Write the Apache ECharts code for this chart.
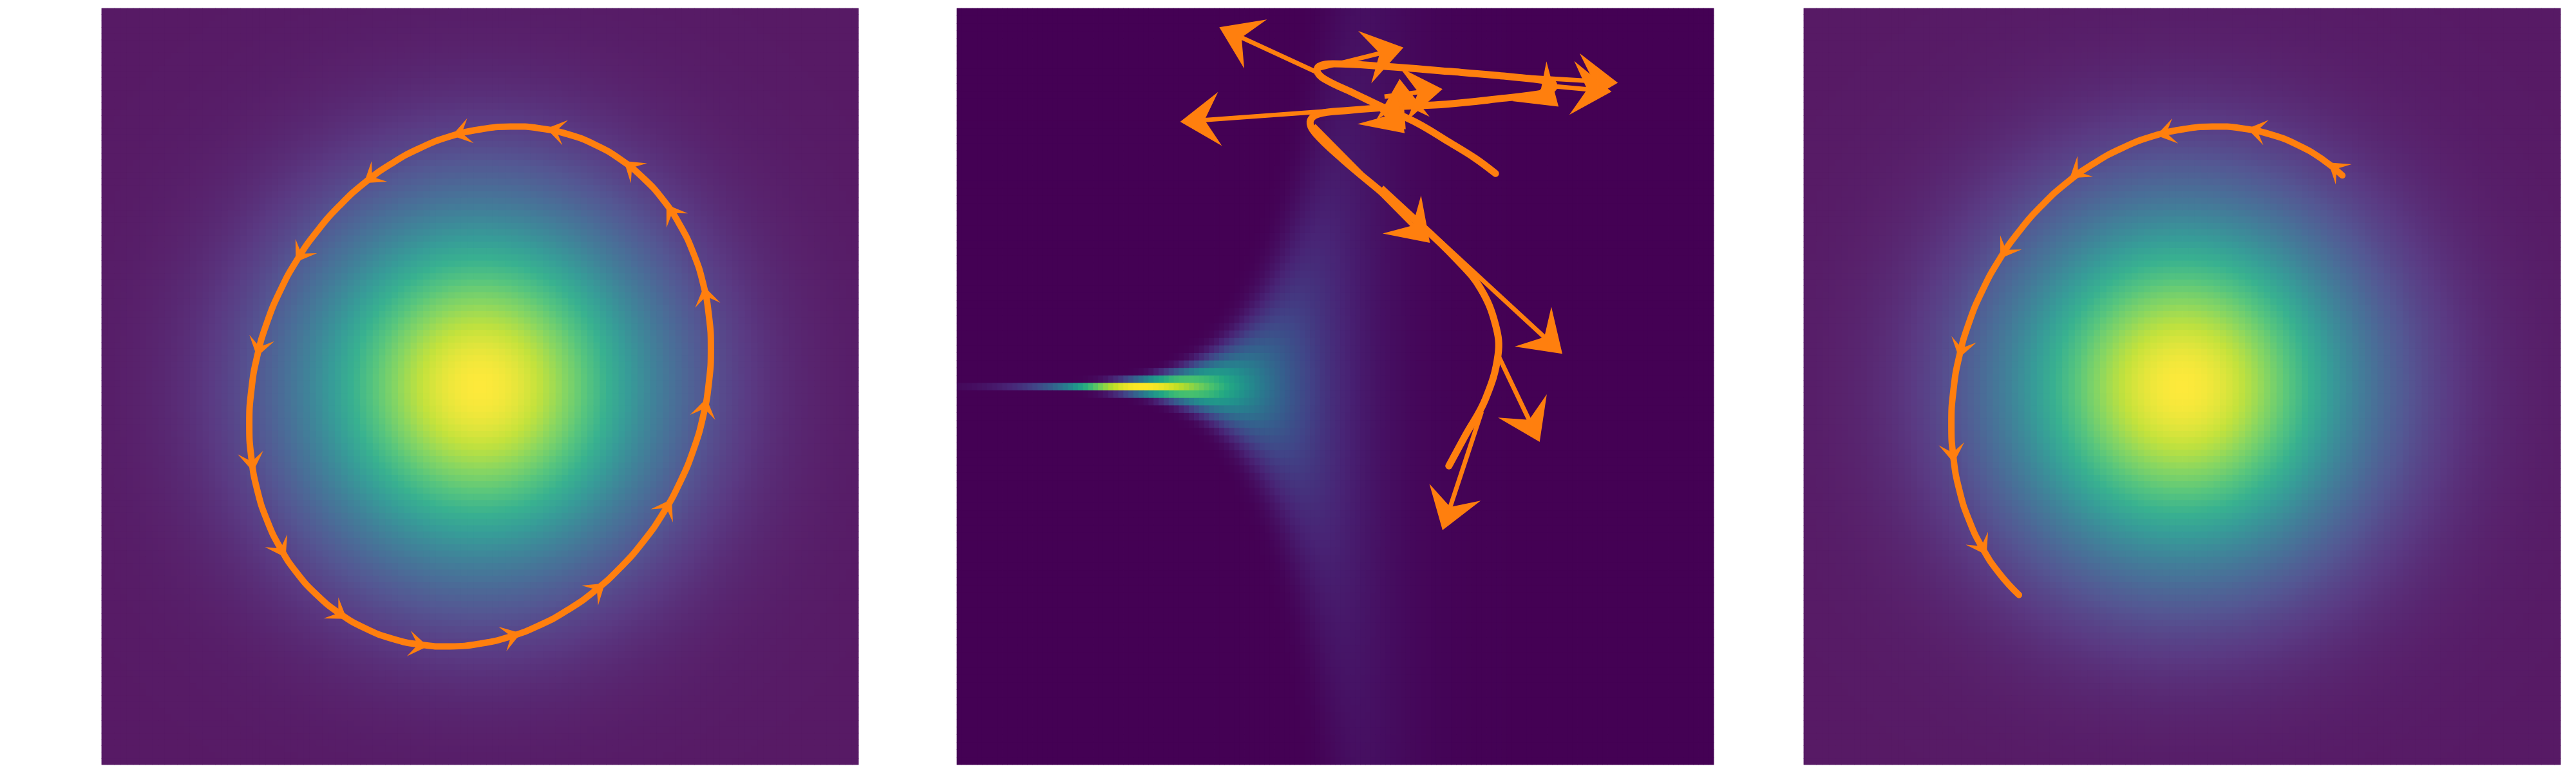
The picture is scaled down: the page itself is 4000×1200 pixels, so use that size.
<!DOCTYPE html>
<html>
<head>
<meta charset="utf-8">
<title>HMC trajectories</title>
<script src="https://cdn.jsdelivr.net/npm/echarts@6/dist/echarts.min.js"></script>
<style>
html, body { margin: 0; padding: 0; background: #ffffff; }
#chart { width: 4000px; height: 1200px; }
</style>
</head>
<body>
<div id="chart"></div>
<script>
// every panel spans the same range on both axes
var extent = [-3, 3];

// left / right panels: gaussian target [centre x, centre y, sigma]
var gaussTarget = [0, 0, 1.0];
var gaussCols = 120, gaussRows = 120;

// middle panel: funnel target [v centre, v sigma, width at v=0, width growth scale]
var funnelTarget = [0, 0.87, 1.63, 0.41];
var funnelCols = 150, funnelRows = 101;

// left panel: closed orbit
var orbitX = [0, -0.239, -0.474, -0.700, -0.915, -1.114, -1.294, -1.452, -1.585, -1.691, -1.768, -1.814,
              -1.83, -1.814, -1.768, -1.691, -1.585, -1.452, -1.294, -1.114, -0.915, -0.700, -0.474, -0.239,
              0, 0.239, 0.474, 0.700, 0.915, 1.114, 1.294, 1.452, 1.585, 1.691, 1.768, 1.814,
              1.83, 1.814, 1.768, 1.691, 1.585, 1.452, 1.294, 1.114, 0.915, 0.700, 0.474, 0.239];
var orbitY = [2.04, 1.984, 1.893, 1.770, 1.617, 1.435, 1.230, 1.004, 0.760, 0.504, 0.238, -0.031,
              -0.30, -0.563, -0.818, -1.058, -1.280, -1.480, -1.654, -1.801, -1.917, -2.000, -2.048, -2.062,
              -2.04, -1.984, -1.893, -1.770, -1.617, -1.435, -1.230, -1.004, -0.760, -0.504, -0.238, 0.031,
              0.30, 0.563, 0.818, 1.058, 1.280, 1.480, 1.654, 1.801, 1.917, 2.000, 2.048, 2.062];
var orbitArrowX = [-0.15, 0.60, 1.20, 1.52, 1.79, 1.78, 1.48, 0.93, 0.25, -0.49, -1.12, -1.58, -1.81, -1.75, -1.42, -0.86];
var orbitArrowY = [2.01, 2.03, 1.74, 1.38, 0.72, -0.17, -0.96, -1.61, -1.98, -2.05, -1.80, -1.29, -0.60, 0.31, 1.05, 1.66];
var orbitArrowU = [-1, -1, -1, -0.67, -0.2, 0.2, 0.59, 1, 1, 1, 1, 0.57, 0.14, -0.26, -0.65, -1];
var orbitArrowV = [-0.26, 0.22, 0.81, 1, 1, 1, 1, 0.82, 0.32, -0.15, -0.70, -1, -1, -1, -1, -0.76];

// right panel: partial orbit
var partX = [1.27, 1.114, 0.915, 0.700, 0.474, 0.239, 0, -0.239, -0.474, -0.700, -0.915, -1.114, -1.294,
             -1.452, -1.585, -1.691, -1.768, -1.814, -1.83, -1.814, -1.768, -1.691, -1.585, -1.452, -1.294];
var partY = [1.675, 1.801, 1.917, 2.000, 2.048, 2.062, 2.04, 1.984, 1.893, 1.770, 1.617, 1.435, 1.230,
             1.004, 0.760, 0.504, 0.238, -0.031, -0.30, -0.563, -0.818, -1.058, -1.280, -1.480, -1.654];
var partArrowX = [1.22, 0.59, -0.13, -0.83, -1.40, -1.75, -1.82, -1.59];
var partArrowY = [1.73, 2.03, 2.01, 1.70, 1.08, 0.30, -0.53, -1.27];
var partArrowU = [-1, -1, -1, -1, -0.66, -0.26, 0.12, 0.57];
var partArrowV = [0.78, 0.21, -0.24, -0.76, -1, -1, -1, -1];

// middle panel: trajectory and momentum arrows (tail + vector)
var trajX = [0.90, 1.03, 1.19, 1.29, 1.27, 1.15, 0.96, 0.68, 0.37, 0.06, -0.16, -0.20, -0.14, 0.10, 0.49, 0.88, 1.27, 1.66, 1.73, 1.72, 1.64, 1.26, 0.90, 0.39, -0.02, -0.13, -0.14, -0.07, 0.14, 0.39, 0.65, 0.90, 1.11, 1.27];
var trajY = [-0.63, -0.39, -0.10, 0.25, 0.49, 0.78, 1.01, 1.28, 1.54, 1.80, 2.01, 2.10, 2.16, 2.19, 2.22, 2.24, 2.28, 2.33, 2.37, 2.41, 2.43, 2.47, 2.50, 2.54, 2.56, 2.54, 2.49, 2.43, 2.33, 2.21, 2.09, 1.94, 1.81, 1.69];
var momX = [-0.14, 0.29, -0.14, 1.26, 1.64, 1.62, 0.39, 0.54, 0.34, -0.17, 0.37, 1.29, 1.16];
var momY = [2.49, 2.21, 2.52, 2.47, 2.39, 2.35, 2.30, 2.04, 2.22, 2.07, 1.58, 0.25, -0.20];
var momU = [-0.78, -1.52, 0.68, 0.98, 0.55, 0.15, 0.46, -0.03, 0.21, 0.92, 1.43, 0.33, -0.31];
var momV = [0.36, -0.11, 0.17, -0.06, -0.05, -0.13, 0.06, 0.40, -0.21, -0.93, -1.32, -0.69, -0.94];

// viridis, and the same ramp seen through 0.9 alpha over white
var viridis = ['#440154', '#482475', '#414487', '#355f8d', '#2a788e', '#21918c',
               '#22a884', '#44bf70', '#7ad151', '#bddf26', '#fde725'];
var viridisFaded = ['#571a65', '#5a3a83', '#545793', '#496f98', '#3f8599', '#379c98',
                    '#38b190', '#57c57e', '#87d662', '#c4e23c', '#fde93b'];
var orange = '#ff7f0e';

// panel boxes in pixels
var panels = [
    { left: 158, top: 13, width: 1175, height: 1174 },
    { left: 1486, top: 13, width: 1175, height: 1174 },
    { left: 2801, top: 13, width: 1175, height: 1174 }
];

function erf(x) {
    var t = 1 / (1 + 0.3275911 * Math.abs(x));
    var y = 1 - (((((1.061405429 * t - 1.453152027) * t) + 1.421413741) * t - 0.284496736) * t + 0.254829592) * t * Math.exp(-x * x);
    return x >= 0 ? y : -y;
}

function cellCentres(n) {
    var out = [];
    var step = (extent[1] - extent[0]) / n;
    for (var i = 0; i < n; i++) out.push(+(extent[0] + (i + 0.5) * step).toFixed(4));
    return out;
}

var gaussXs = cellCentres(gaussCols), gaussYs = cellCentres(gaussRows);
var funnelXs = cellCentres(funnelCols), funnelYs = cellCentres(funnelRows);

// gaussian density on the grid
var gaussCells = [];
for (var i = 0; i < gaussCols; i++) {
    for (var j = 0; j < gaussRows; j++) {
        var dx = gaussXs[i] - gaussTarget[0], dy = gaussYs[j] - gaussTarget[1];
        var g = Math.exp(-(dx * dx + dy * dy) / (2 * gaussTarget[2] * gaussTarget[2]));
        gaussCells.push([i, j, g]);
    }
}

// funnel density, mass of each cell row
var funnelCells = [];
var rowH = (extent[1] - extent[0]) / funnelRows;
var fmax = 0;
for (var i = 0; i < funnelCols; i++) {
    var v = funnelXs[i];
    var p = Math.exp(-Math.pow(v - funnelTarget[0], 2) / (2 * funnelTarget[1] * funnelTarget[1]));
    var w = funnelTarget[2] * Math.exp(v / funnelTarget[3]);
    var s = Math.SQRT2 * w;
    for (var j = 0; j < funnelRows; j++) {
        var y = funnelYs[j];
        var m = p * (erf((y + rowH / 2) / s) - erf((y - rowH / 2) / s)) / 2;
        if (m > fmax) fmax = m;
        funnelCells.push([i, j, m]);
    }
}
for (var k = 0; k < funnelCells.length; k++) funnelCells[k][2] = funnelCells[k][2] / fmax;

function zip(a, b) {
    var out = [];
    for (var i = 0; i < a.length; i++) out.push([a[i], b[i]]);
    return out;
}
function zip4(a, b, c, d) {
    var out = [];
    for (var i = 0; i < a.length; i++) out.push([a[i], b[i], c[i], d[i]]);
    return out;
}

function headPoints(tip, ux, uy, hl, hw, ha) {
    var px = -uy, py = ux;
    return [
        [tip[0], tip[1]],
        [tip[0] - ux * hl + px * hw / 2, tip[1] - uy * hl + py * hw / 2],
        [tip[0] - ux * ha, tip[1] - uy * ha],
        [tip[0] - ux * hl - px * hw / 2, tip[1] - uy * hl - py * hw / 2]
    ];
}

// small arrow heads sitting on the orbit
function renderOrbitArrow(params, api) {
    var x = api.value(0), y = api.value(1), u = api.value(2), v = api.value(3);
    var c = api.coord([x, y]);
    var d = api.coord([x + u * 0.01, y + v * 0.01]);
    var dx = d[0] - c[0], dy = d[1] - c[1];
    var len = Math.sqrt(dx * dx + dy * dy);
    var ux = dx / len, uy = dy / len;
    var hl = 30, hw = 40, ha = 16;
    var tip = [c[0] + ux * hl / 2, c[1] + uy * hl / 2];
    return {
        type: 'polygon',
        shape: { points: headPoints(tip, ux, uy, hl, hw, ha) },
        style: { fill: orange }
    };
}

// quiver style momentum arrows
function renderMomentum(params, api) {
    var x = api.value(0), y = api.value(1), u = api.value(2), v = api.value(3);
    var a = api.coord([x, y]);
    var b = api.coord([x + u, y + v]);
    var dx = b[0] - a[0], dy = b[1] - a[1];
    var len = Math.sqrt(dx * dx + dy * dy);
    var ux = dx / len, uy = dy / len;
    var k = Math.min(1, len / 40);
    var hl = 62 * k, hw = 84 * k, ha = 38 * k;
    return {
        type: 'group',
        children: [{
            type: 'line',
            shape: { x1: a[0], y1: a[1], x2: b[0] - ux * ha * 0.9, y2: b[1] - uy * ha * 0.9 },
            style: { stroke: orange, lineWidth: 7 }
        }, {
            type: 'polygon',
            shape: { points: headPoints(b, ux, uy, hl, hw, ha) },
            style: { fill: orange }
        }]
    };
}

// a whole trajectory drawn as one smoothed path through the axis scales
function pathSeries(idx, xs, ys, width, closed, smooth) {
    return {
        type: 'custom', xAxisIndex: idx, yAxisIndex: idx, clip: false, silent: true, z: 3,
        data: zip(xs, ys),
        renderItem: function (params, api) {
            if (params.dataIndex !== 0) return;
            var pts = [];
            for (var i = 0; i < xs.length; i++) pts.push(api.coord([xs[i], ys[i]]));
            return {
                type: closed ? 'polygon' : 'polyline',
                shape: { points: pts, smooth: smooth },
                style: { fill: 'none', stroke: orange, lineWidth: width, lineCap: 'round', lineJoin: 'round' }
            };
        }
    };
}

function heat(idx, cells) {
    return { type: 'heatmap', xAxisIndex: idx, yAxisIndex: idx, data: cells, progressive: 0, silent: true };
}

var grids = [], xAxes = [], yAxes = [];
// heatmap grids (category axes) then overlay grids (value axes)
for (var g = 0; g < 3; g++) {
    grids.push({ left: panels[g].left, top: panels[g].top, width: panels[g].width, height: panels[g].height, containLabel: false });
    xAxes.push({ type: 'category', gridIndex: g, data: g === 1 ? funnelXs : gaussXs, show: false });
    yAxes.push({ type: 'category', gridIndex: g, data: g === 1 ? funnelYs : gaussYs, show: false });
}
for (var g = 0; g < 3; g++) {
    grids.push({ left: panels[g].left, top: panels[g].top, width: panels[g].width, height: panels[g].height, containLabel: false });
    xAxes.push({ type: 'value', gridIndex: g + 3, min: extent[0], max: extent[1], show: false, splitLine: { show: false } });
    yAxes.push({ type: 'value', gridIndex: g + 3, min: extent[0], max: extent[1], show: false, splitLine: { show: false } });
}

var chart = echarts.init(document.getElementById('chart'));
chart.setOption({
    animation: false,
    backgroundColor: '#ffffff',
    grid: grids,
    xAxis: xAxes,
    yAxis: yAxes,
    visualMap: [{
        type: 'continuous', show: false, min: 0, max: 1, dimension: 2,
        seriesIndex: [0, 2, 3, 5],
        inRange: { color: viridisFaded }
    }, {
        type: 'continuous', show: false, min: 0, max: 1, dimension: 2,
        seriesIndex: [1, 4],
        inRange: { color: viridis }
    }],
    series: [
        // each heatmap is laid down twice so the anti-aliased cell seams close up
        heat(0, gaussCells), heat(1, funnelCells), heat(2, gaussCells),
        heat(0, gaussCells), heat(1, funnelCells), heat(2, gaussCells),
        pathSeries(3, orbitX, orbitY, 10, true, 0.5),
        pathSeries(4, trajX, trajY, 11, false, 0.4),
        pathSeries(5, partX, partY, 10, false, 0.5),
        {
            type: 'custom', xAxisIndex: 3, yAxisIndex: 3, clip: false, silent: true, z: 4,
            data: zip4(orbitArrowX, orbitArrowY, orbitArrowU, orbitArrowV),
            renderItem: renderOrbitArrow
        },
        {
            type: 'custom', xAxisIndex: 4, yAxisIndex: 4, clip: false, silent: true, z: 4,
            data: zip4(momX, momY, momU, momV),
            renderItem: renderMomentum
        },
        {
            type: 'custom', xAxisIndex: 5, yAxisIndex: 5, clip: false, silent: true, z: 4,
            data: zip4(partArrowX, partArrowY, partArrowU, partArrowV),
            renderItem: renderOrbitArrow
        }
    ]
});
</script>
</body>
</html>
